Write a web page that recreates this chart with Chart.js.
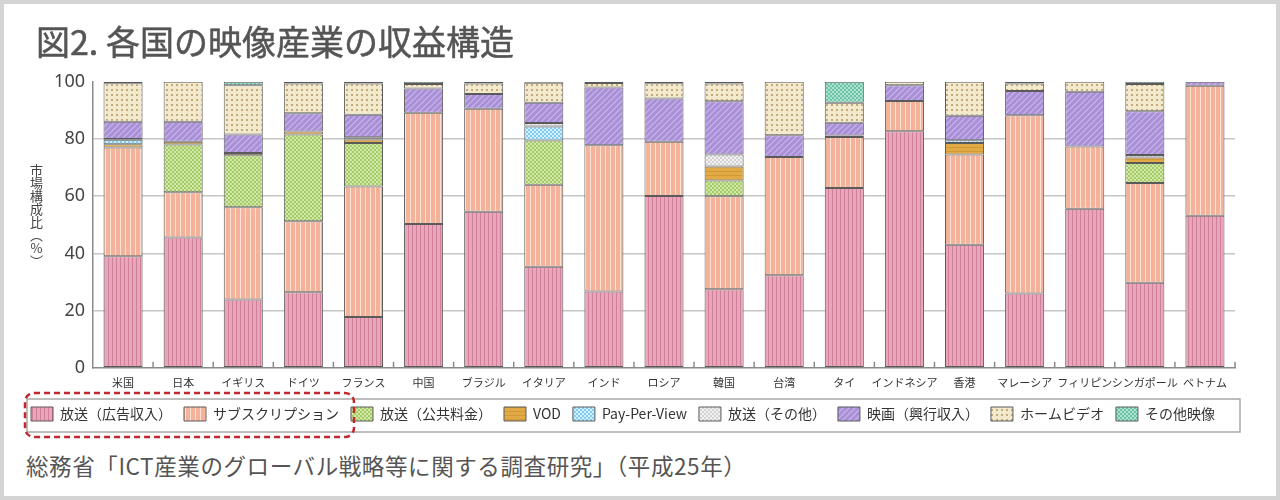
<!DOCTYPE html>
<html lang="ja"><head><meta charset="utf-8">
<script src="https://cdn.jsdelivr.net/npm/chart.js@4.4.1/dist/chart.umd.min.js"></script>
<style>
html,body{margin:0;padding:0;background:#fff;width:1280px;height:500px;overflow:hidden;position:relative}
#frame{position:absolute;left:0;top:0;width:1280px;height:500px;box-sizing:border-box;border:4px solid #d4d4d4;background:#fff}
#title{position:absolute;left:36px;top:24px;font-family:"Noto Sans CJK JP",sans-serif;font-weight:400;font-size:34px;line-height:1;color:#555;-webkit-text-stroke:0.5px #555;white-space:nowrap}
#ytitle{position:absolute;left:30px;top:164px;writing-mode:vertical-rl;text-orientation:upright;font-family:"Noto Sans CJK JP",sans-serif;font-size:13px;line-height:1;color:#444}
#src{position:absolute;left:26px;top:454px;font-family:"Noto Sans CJK JP",sans-serif;font-size:22.5px;letter-spacing:0.6px;line-height:1;color:#555;white-space:nowrap}
#cv{position:absolute;left:0;top:63px}
</style></head>
<body>
<div id="frame"></div>
<canvas id="cv" width="1280" height="380"></canvas>
<div id="title">図2. 各国の映像産業の収益構造</div>
<div id="ytitle">市場構成比（%）</div>
<div id="src">総務省「ICT産業のグローバル戦略等に関する調査研究」（平成25年）</div>
<script>
const categories = ['米国','日本','イギリス','ドイツ','フランス','中国','ブラジル','イタリア','インド','ロシア','韓国','台湾','タイ','インドネシア','香港','マレーシア','フィリピン','シンガポール','ベトナム'];
const seriesNames = ['放送（広告収入）','サブスクリプション','放送（公共料金）','VOD','Pay-Per-View','放送（その他）','映画（興行収入）','ホームビデオ','その他映像'];
const yTicks = [0,20,40,60,80,100];

const broadcastAd   = [39, 45.6, 23.9, 26.4, 17.8, 50.3, 54.6, 35.3, 26.7, 60.1, 27.5, 32.4, 62.9, 82.7, 43, 26, 55.6, 29.7, 53.2];
const subscription  = [38, 15.8, 32.2, 24.8, 45.6, 38.9, 36, 28.7, 51.1, 18.9, 32.5, 41.3, 17.8, 10.6, 31.6, 62.3, 21.8, 34.9, 45.4];
const broadcastFee  = [0, 16.7, 18.2, 30.4, 15.2, 0, 0, 15.5, 0, 0, 5.5, 0, 0, 0, 0, 0, 0, 7, 0];
const vod           = [1.2, 0.9, 0.8, 1, 1.2, 0, 0, 0, 0, 0, 4.9, 0, 0.5, 0, 4, 0, 0, 1.9, 0];
const payPerView    = [1.5, 0, 0, 0, 0, 0, 0, 4.9, 0, 0, 0, 0, 0, 0, 1, 0, 0, 0, 0];
const broadcastOther= [0.3, 0, 0, 0, 0.8, 0, 0, 1.2, 0, 0, 4.2, 0, 0, 0, 0, 0, 0, 0.9, 0];
const film          = [6, 7, 6.5, 6.4, 7.9, 8.5, 5.1, 7.1, 20.2, 15.2, 18.6, 7.6, 4.5, 5.5, 8.5, 8.5, 19.1, 15.3, 1.4];
const homeVideo     = [13.5, 14, 17.2, 10.4, 10.9, 1.5, 3.7, 7, 1.6, 5.3, 6.2, 18.7, 7, 1.2, 11.9, 2.6, 3.5, 9.5, 0];
const otherVideo    = [0.5, 0, 1.2, 0.6, 0.6, 0.8, 0.6, 0.3, 0.4, 0.5, 0.6, 0, 7.3, 0, 0, 0.6, 0, 0.8, 0];
const seriesData = [broadcastAd, subscription, broadcastFee, vod, payPerView, broadcastOther, film, homeVideo, otherVideo];

const cv = document.getElementById('cv');
const mainCtx = cv.getContext('2d');
function pat(w,h,bg,draw){
  const c=document.createElement('canvas');c.width=w;c.height=h;
  const x=c.getContext('2d');x.fillStyle=bg;x.fillRect(0,0,w,h);draw(x);
  return mainCtx.createPattern(c,'repeat');
}
function checker(col){return x=>{x.fillStyle=col;x.fillRect(0,0,2,2);x.fillRect(2,2,2,2);};}
const patterns = [
  pat(4,4,'#e9a6bb',x=>{x.fillStyle='#cf8199';x.fillRect(0,0,1,4);}),
  pat(5,4,'#f4b29a',x=>{x.fillStyle='#fde2d4';x.fillRect(0,0,1,4);}),
  pat(4,4,'#d2e8a8',checker('#a5cb68')),
  pat(4,4,'#e2aa45',x=>{x.fillStyle='#d09a36';x.fillRect(0,0,4,1);}),
  pat(4,4,'#86ccf0',checker('#cdeefc')),
  pat(4,4,'#d2d2d2',checker('#f2f2f2')),
  pat(6,6,'#a98fd6',x=>{x.strokeStyle='#c9b8ec';x.lineWidth=1.2;x.beginPath();
     x.moveTo(0,6);x.lineTo(6,0);x.moveTo(-3,3);x.lineTo(3,-3);x.moveTo(3,9);x.lineTo(9,3);x.stroke();}),
  pat(5,5,'#f3e9cc',x=>{x.fillStyle='#c2aa7a';x.fillRect(1,1,2,2);}),
  pat(4,4,'#6cc4a8',checker('#aee2cf'))
];

const decor = {
  id:'decor',
  afterDraw(chart){
    const {ctx, chartArea:a, scales:{x}} = chart;
    ctx.save();
    ctx.strokeStyle='#8a8a8a'; ctx.lineWidth=1.5;
    const n = categories.length;
    for(let i=1;i<=n;i++){
      const px = i<n ? (x.getPixelForValue(i-1)+x.getPixelForValue(i))/2 : a.right;
      ctx.beginPath(); ctx.moveTo(px,a.bottom); ctx.lineTo(px,a.bottom-6); ctx.stroke();
    }
    const hb = chart.legend.legendHitBoxes;
    if(hb && hb.length){
      const t = hb[0].top, h = hb[0].height;
      ctx.strokeStyle='#a8a8a8'; ctx.lineWidth=1.5;
      ctx.strokeRect(hb[0].left-4, t-8, a.right+5-(hb[0].left-4), h+19);
      ctx.strokeStyle='#c0282e'; ctx.lineWidth=2.5; ctx.setLineDash([6,4]);
      const l = hb[0].left-6, r = hb[1].left+hb[1].width+15;
      ctx.beginPath(); ctx.roundRect(l, t-14, r-l, h+30, 9); ctx.stroke();
    }
    ctx.restore();
  }
};

new Chart(cv, {
  type:'bar',
  data:{
    labels:categories,
    datasets: seriesData.map((d,i)=>({
      label:seriesNames[i], data:d, backgroundColor:patterns[i],
      borderColor:'#5a5a5a', borderWidth:1, borderSkipped:false,
      categoryPercentage:1, barPercentage:0.65
    }))
  },
  options:{
    responsive:false, animation:false, devicePixelRatio:1,
    layout:{padding:{left:19,right:8,top:12,bottom:12}},
    plugins:{
      legend:{position:'bottom',align:'start',
        labels:{boxWidth:22,boxHeight:14,padding:12,color:'#333',font:{family:'"Noto Sans CJK JP", sans-serif',size:14}}},
      tooltip:{enabled:false}
    },
    scales:{
      x:{stacked:true,
        grid:{display:true,drawOnChartArea:false,drawTicks:false,color:'rgba(0,0,0,0)'},
        border:{display:true,color:'#8a8a8a',width:1.5},
        ticks:{autoSkip:false,maxRotation:0,minRotation:0,padding:8,color:'#333',font:{family:'"Noto Sans CJK JP", sans-serif',size:11}},
        afterFit(s){s.height-=2;}
      },
      y:{stacked:true,min:0,max:100,
        afterBuildTicks(s){s.ticks=yTicks.map(v=>({value:v}));},
        grid:{color:c=>(c.tick&&c.tick.value>0&&c.tick.value<100)?'#c6c6c6':'rgba(0,0,0,0)',lineWidth:1.5,drawTicks:false},
        border:{color:'#8a8a8a',width:1.5},
        ticks:{padding:8,color:'#444',font:{family:'"Noto Sans", sans-serif',size:18}},
        afterFit(s){s.width=74;}
      },
      y2:{position:'right',display:true,
        grid:{drawOnChartArea:false,drawTicks:false},border:{display:false},ticks:{display:false},
        afterFit(s){s.width=37;}
      }
    }
  },
  plugins:[decor]
});
</script>
</body></html>
